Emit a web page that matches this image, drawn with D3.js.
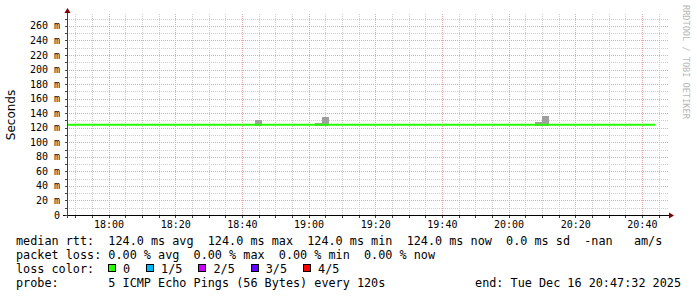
<!DOCTYPE html>
<html>
<head>
<meta charset="utf-8">
<script src="https://cdn.jsdelivr.net/npm/d3@7"></script>
<style>
  body { margin: 0; background: #fff; }
  text { fill: #000; }
</style>
</head>
<body>
<div class="chart"></div>
<script>
// chart data
var startTime = "2025-12-16 17:47:32",
    endTime = "2025-12-16 20:47:32";

var yTicks = [0, 20, 40, 60, 80, 100, 120, 140, 160, 180, 200, 220, 240, 260];
var yMinor = [10, 30, 50, 70, 90, 110, 130, 150, 170, 190, 210, 230, 250, 270];
var xTickLabels = ["18:00", "18:20", "18:40", "19:00", "19:20", "19:40", "20:00", "20:20", "20:40"];

// median rtt (ms)
var medianTimes = ["17:47:32", "20:44:00"];
var medianValues = [124, 124];

// smoke (ping spread), each bar is one 120s step
var smokeTimes = ["18:44", "19:02", "19:04", "20:08", "20:10"];
var smokeLow = [123, 123, 123, 123, 123];
var smokeHigh = [130, 126, 135, 128, 136];

var lossLabels = ["0", "1/5", "2/5", "3/5", "4/5"];
var lossColors = ["#26ff00", "#00b8ff", "#c800ff", "#5e00ff", "#ff0000"];

var legendLines = [
  "median rtt:  124.0 ms avg  124.0 ms max  124.0 ms min  124.0 ms now  0.0 ms sd  -nan   am/s",
  "packet loss: 0.00 % avg  0.00 % max  0.00 % min  0.00 % now"
];
var probeText = "probe:       5 ICMP Echo Pings (56 Bytes) every 120s";
var endText = "end: Tue Dec 16 20:47:32 2025";

// layout
var W = 697, H = 297;
var pLeft = 67, pRight = 667, pTop = 15, pBottom = 215;
var mono = "'DejaVu Sans Mono', monospace";

var parseFull = d3.utcParse("%Y-%m-%d %H:%M:%S");
function t(s) {
  if (s.length == 5) s = s + ":00";
  return parseFull("2025-12-16 " + s);
}

var svg = d3.select(".chart").append("svg")
  .attr("width", W).attr("height", H);

var x = d3.scaleUtc()
  .domain([parseFull(startTime), parseFull(endTime)])
  .range([pLeft, pRight]);
var y = d3.scaleLinear()
  .domain([0, 275])
  .range([pBottom, pTop]);

// grid
var grid = svg.append("g").attr("shape-rendering", "crispEdges");
var minorX = x.ticks(d3.utcMinute.every(5));
var majorX = xTickLabels.map(t);

grid.selectAll(".vmin").data(minorX).enter().append("line")
  .attr("x1", d => Math.round(x(d)) + 0.5).attr("x2", d => Math.round(x(d)) + 0.5)
  .attr("y1", pBottom).attr("y2", pTop - 2)
  .attr("stroke", "#cccccc").attr("stroke-dasharray", "1,1");
grid.selectAll(".hmin").data(yMinor).enter().append("line")
  .attr("x1", pLeft).attr("x2", pRight + 2)
  .attr("y1", d => Math.round(y(d)) + 0.5).attr("y2", d => Math.round(y(d)) + 0.5)
  .attr("stroke", "#cccccc").attr("stroke-dasharray", "1,1");
grid.selectAll(".vmaj").data(majorX).enter().append("line")
  .attr("x1", d => Math.round(x(d)) + 0.5).attr("x2", d => Math.round(x(d)) + 0.5)
  .attr("y1", pBottom).attr("y2", pTop - 2)
  .attr("stroke", "#e8a6a6").attr("stroke-dasharray", "1,1");
grid.selectAll(".hmaj").data(yTicks.slice(1)).enter().append("line")
  .attr("x1", pLeft).attr("x2", pRight + 2)
  .attr("y1", d => Math.round(y(d)) + 0.5).attr("y2", d => Math.round(y(d)) + 0.5)
  .attr("stroke", "#e8a6a6").attr("stroke-dasharray", "1,1");

// smoke
var step = 2 * 60 * 1000;
svg.append("g").attr("shape-rendering", "crispEdges")
  .selectAll("rect").data(smokeTimes).enter().append("rect")
  .attr("x", d => x(t(d)))
  .attr("width", d => x(new Date(+t(d) + step)) - x(t(d)))
  .attr("y", (d, i) => y(smokeHigh[i]))
  .attr("height", (d, i) => y(smokeLow[i]) - y(smokeHigh[i]))
  .attr("fill", "#a0a0a0");

// median line
var line = d3.line()
  .x(d => x(t(d)))
  .y((d, i) => y(medianValues[i]));
svg.append("path")
  .datum(medianTimes)
  .attr("d", line)
  .attr("fill", "none")
  .attr("stroke", lossColors[0])
  .attr("stroke-width", 2);

// axes
var ax = svg.append("g").attr("shape-rendering", "crispEdges");
ax.append("line").attr("x1", pLeft - 4).attr("x2", pRight + 4)
  .attr("y1", pBottom + 0.5).attr("y2", pBottom + 0.5).attr("stroke", "#000");
ax.append("line").attr("x1", pLeft + 0.5).attr("x2", pLeft + 0.5)
  .attr("y1", pBottom + 3).attr("y2", pTop - 4).attr("stroke", "#404040");
// small ticks
ax.selectAll(".xt").data(minorX).enter().append("line")
  .attr("x1", d => Math.round(x(d)) + 0.5).attr("x2", d => Math.round(x(d)) + 0.5)
  .attr("y1", pBottom + 1).attr("y2", pBottom + 3).attr("stroke", "#404040");
ax.selectAll(".yt").data(yTicks.concat(yMinor)).enter().append("line")
  .attr("x1", pLeft - 2).attr("x2", pLeft)
  .attr("y1", d => Math.round(y(d)) + 0.5).attr("y2", d => Math.round(y(d)) + 0.5)
  .attr("stroke", "#404040");
// arrows
svg.append("path")
  .attr("d", "M" + (pRight + 2) + "," + (pBottom - 2.5) + "L" + (pRight + 7) + "," + (pBottom + 0.5) + "L" + (pRight + 2) + "," + (pBottom + 3.5) + "Z")
  .attr("fill", "#800000");
svg.append("path")
  .attr("d", "M" + (pLeft - 2.5) + "," + (pTop - 2) + "L" + (pLeft + 0.5) + "," + (pTop - 7) + "L" + (pLeft + 3.5) + "," + (pTop - 2) + "Z")
  .attr("fill", "#800000");

// tick labels
svg.append("g").selectAll("text").data(yTicks).enter().append("text")
  .attr("x", 60).attr("y", d => y(d) + 3.5)
  .attr("text-anchor", "end")
  .style("font", "10px " + mono)
  .text(d => d == 0 ? "0" : d + " m");
svg.append("g").selectAll("text").data(xTickLabels).enter().append("text")
  .attr("x", d => x(t(d)) + 0.5).attr("y", pBottom + 13)
  .attr("text-anchor", "middle")
  .style("font", "10px " + mono)
  .text(d => d);

// y label
svg.append("text")
  .attr("transform", "translate(15," + (pBottom + pTop) / 2 + ") rotate(-90)")
  .attr("text-anchor", "middle")
  .style("font", "12px 'DejaVu Sans', sans-serif")
  .text("Seconds");

// watermark
svg.append("text")
  .attr("transform", "translate(683,5) rotate(90)")
  .style("font", "8.6px " + mono)
  .style("fill", "#b8b8b8")
  .text("RRDTOOL / TOBI OETIKER");

// legend
var lf = "11.8px " + mono;
var legY = [244.5, 258.7, 272.9, 287.1];
svg.append("g").selectAll("text").data(legendLines).enter().append("text")
  .attr("x", 16).attr("y", (d, i) => legY[i])
  .style("font", lf).style("white-space", "pre")
  .text(d => d);

svg.append("text").attr("x", 16).attr("y", legY[2])
  .style("font", lf).style("white-space", "pre")
  .text("loss color:");
var lx = 108;
lossLabels.forEach(function(lab, i) {
  svg.append("rect")
    .attr("x", lx + 0.5).attr("y", legY[2] - 8.5)
    .attr("width", 7).attr("height", 7)
    .attr("fill", lossColors[i]).attr("stroke", "#000").attr("stroke-width", 1)
    .attr("shape-rendering", "crispEdges");
  var tx = svg.append("text").attr("x", lx + 15).attr("y", legY[2])
    .style("font", lf).text(lab);
  lx = lx + 15 + tx.node().getComputedTextLength() + 16;
});

svg.append("text").attr("x", 16).attr("y", legY[3])
  .style("font", lf).style("white-space", "pre")
  .text(probeText);
svg.append("text").attr("x", 681).attr("y", legY[3])
  .attr("text-anchor", "end")
  .style("font", lf)
  .text(endText);
</script>
</body>
</html>
